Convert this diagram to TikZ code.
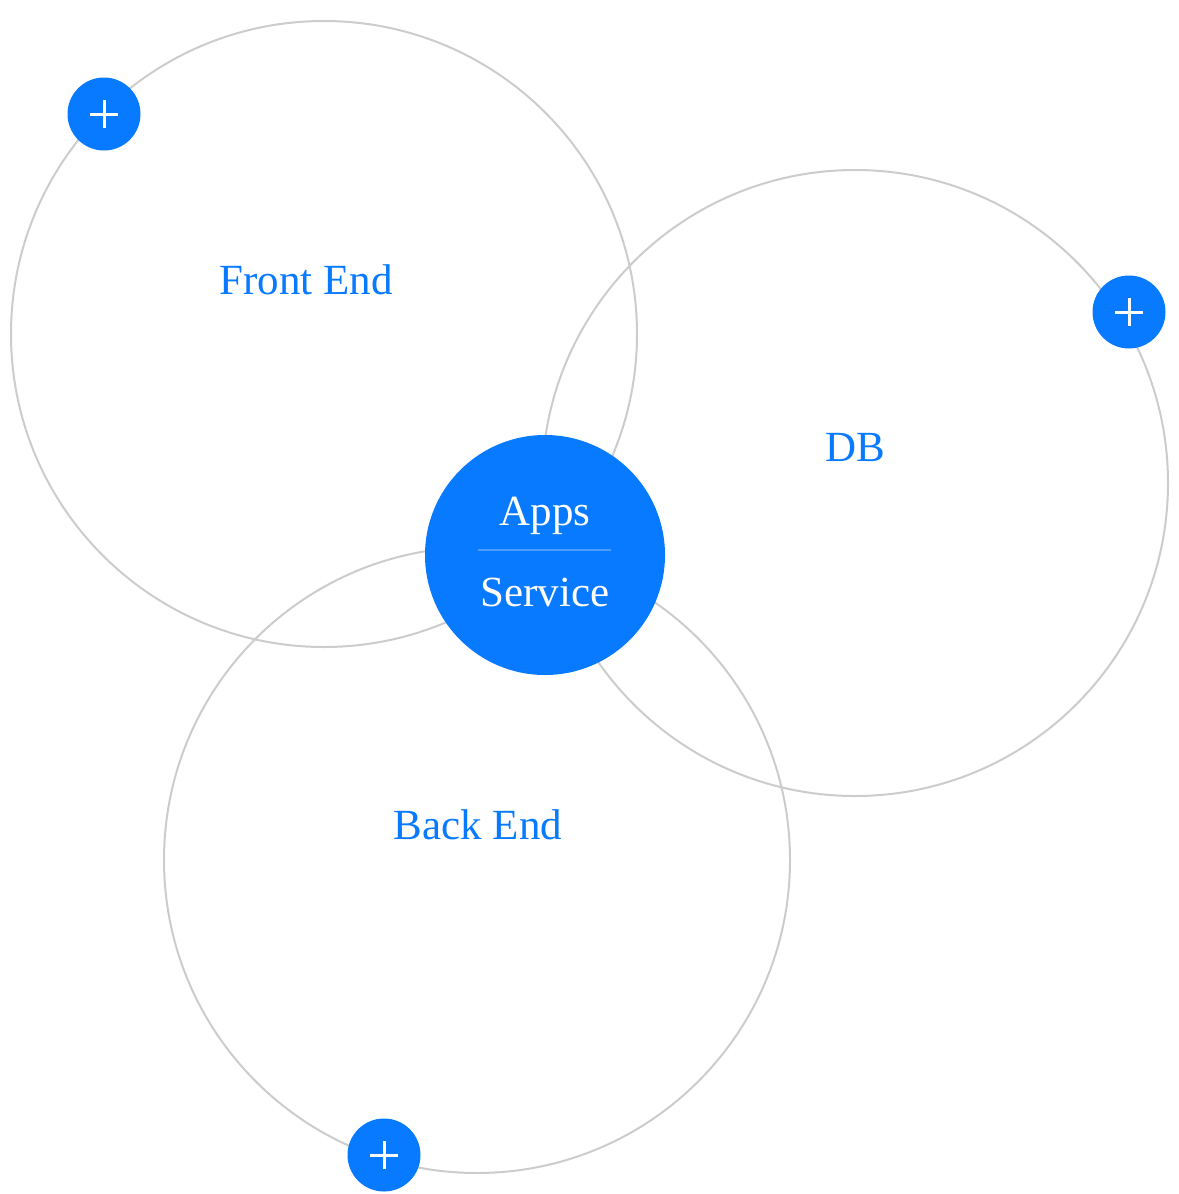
\documentclass[tikz,border=0pt]{standalone}
\usepackage{fontspec}
\setmainfont{Liberation Serif}
\definecolor{appblue}{RGB}{7,122,255}
\definecolor{ringgray}{RGB}{204,204,204}
\definecolor{dividerblue}{RGB}{78,156,255}
\tikzset{
  ring/.style={circle, draw=ringgray, line width=2pt, minimum size=626pt, inner sep=0pt},
  hub/.style={circle, fill=appblue, minimum size=240pt, inner sep=0pt},
  plusbtn/.style={circle, fill=appblue, minimum size=73pt, inner sep=0pt,
    path picture={
      \draw[white, line width=3pt] ([xshift=-14pt]path picture bounding box.center) -- ([xshift=14pt]path picture bounding box.center);
      \draw[white, line width=3pt] ([yshift=-14pt]path picture bounding box.center) -- ([yshift=14pt]path picture bounding box.center);
    }},
  ringlabel/.style={text=appblue, font=\fontsize{43}{50}\selectfont, anchor=base, inner sep=0pt},
  hublabel/.style={text=white, font=\fontsize{43}{50}\selectfont, anchor=base, inner sep=0pt}
}
\begin{document}
\begin{tikzpicture}[x=1pt, y=-1pt]
    \useasboundingbox (0,0) rectangle (1178,1194);

    % Draw the three rings
    \node[ring] (front) at (324,334) {};
    \node[ring] (db) at (855,483) {};
    \node[ring] (back) at (477,860) {};

    % Ring labels
    \node[ringlabel] (frontlabel) at (306,294) {Front End};
    \node[ringlabel] (dblabel) at (855,461) {DB};
    \node[ringlabel] (backlabel) at (478,839) {Back End};

    % Central hub
    \node[hub] (hub) at (545,555) {};
    \node[hublabel] (apps) at (545,525) {Apps};
    \node[hublabel] (service) at (545,606) {Service};
    \coordinate (divleft) at (478,550);
    \coordinate (divright) at (611,550);
    \draw[dividerblue, line width=2.5pt] (divleft) -- (divright);

    % Plus buttons on the rings
    \node[plusbtn] (frontplus) at (104,114) {};
    \node[plusbtn] (dbplus) at (1129,312) {};
    \node[plusbtn] (backplus) at (384,1155) {};
\end{tikzpicture}
\end{document}
